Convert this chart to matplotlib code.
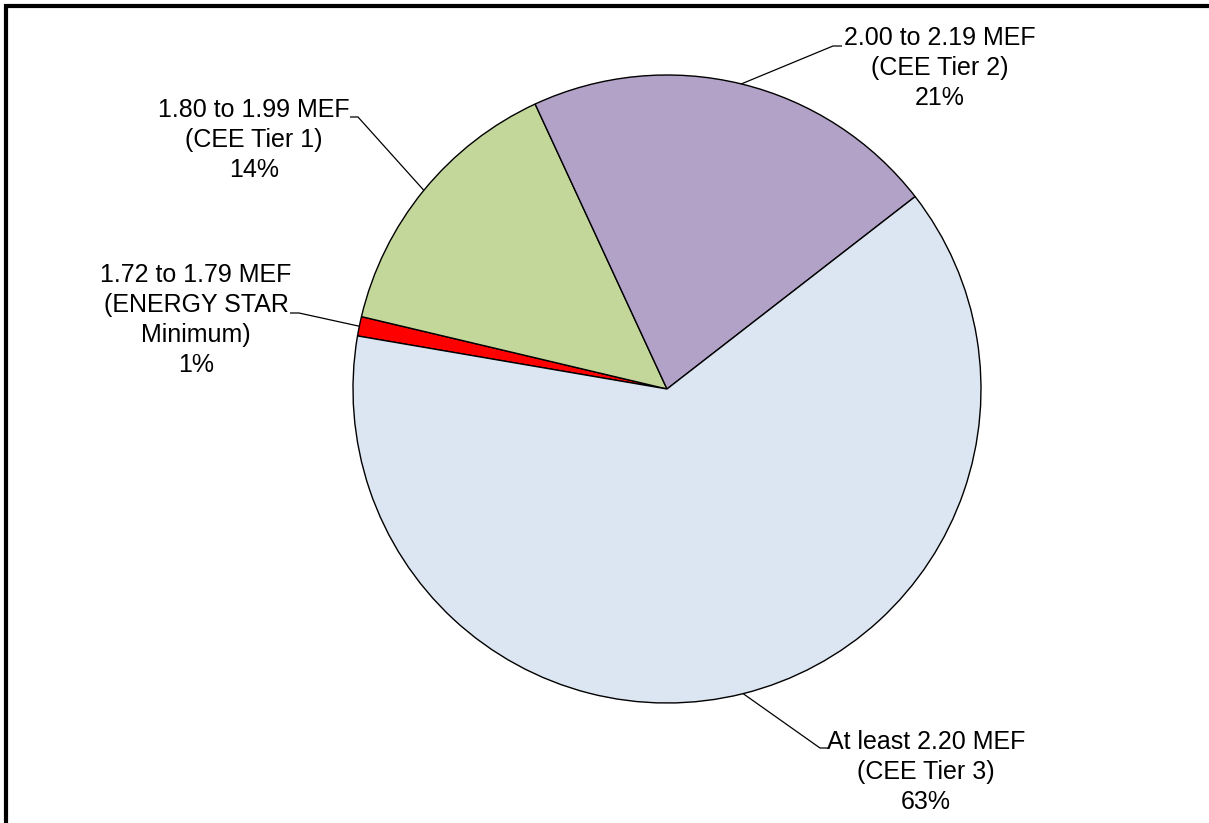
import matplotlib
matplotlib.use('Agg')
import matplotlib.pyplot as plt
import matplotlib.patches as patches
import numpy as np

# MEF bands, share of models in each band (percent)
categories = ["1.72 to 1.79 MEF\n(ENERGY STAR\nMinimum)",
              "1.80 to 1.99 MEF\n(CEE Tier 1)",
              "2.00 to 2.19 MEF\n(CEE Tier 2)",
              "At least 2.20 MEF\n(CEE Tier 3)"]
shares = [1.0, 14.4, 21.4, 63.2]
colors = ['#FF0000', '#C4D79B', '#B3A2C7', '#DCE6F2']

plt.rcParams['font.family'] = ['Liberation Sans', 'DejaVu Sans']

W, H = 1209, 823
cx, cy, r = 667, 389, 314  # pie centre / radius in pixels

def px(x, y):
    # pixel position (from top left) -> data units where the pie radius is 1
    return (x - cx) / r, (cy - y) / r

fig = plt.figure(figsize=(W / 100, H / 100), dpi=100)
ax = fig.add_axes([0, 0, 1, 1])

wedges, _ = ax.pie(shares, colors=colors, startangle=170.27, counterclock=False,
                   wedgeprops=dict(edgecolor='black', linewidth=1.0))
ax.set_xlim(-cx / r, (W - cx) / r)
ax.set_ylim(-(H - cy) / r, cy / r)
ax.axis('off')

# where each label block sits, and the elbow + end of its leader line
label_pos = [(196, 320), (254, 140), (940, 68), (926, 772)]
leaders = [((299, 313), (290, 313)),
           ((358, 117), (350, 117)),
           ((833, 46), (842, 46)),
           ((820, 748), (829, 748))]

for w, cat, val, pos, (elbow, end) in zip(wedges, categories, shares, label_pos, leaders):
    mid = np.deg2rad((w.theta1 + w.theta2) / 2)
    ex, ey = np.cos(mid), np.sin(mid)
    bx, by = px(*elbow)
    tx, ty = px(*end)
    ax.plot([ex, bx, tx], [ey, by, ty], color='black', lw=0.9, solid_capstyle='butt')
    lx, ly = px(*pos)
    ax.text(lx, ly, f"{cat}\n{round(val)}%", ha='center', va='center',
            fontsize=18, linespacing=1.32, color='black')

# outer frame, runs off the bottom and right of the image
frame = patches.Rectangle((6 / W, -0.1), (1210.5 - 6) / W, (H - 6) / H + 0.1,
                          transform=fig.transFigure, fill=False, lw=3,
                          ec='black', clip_on=False)
fig.add_artist(frame)

plt.savefig('out.png', dpi=100)
